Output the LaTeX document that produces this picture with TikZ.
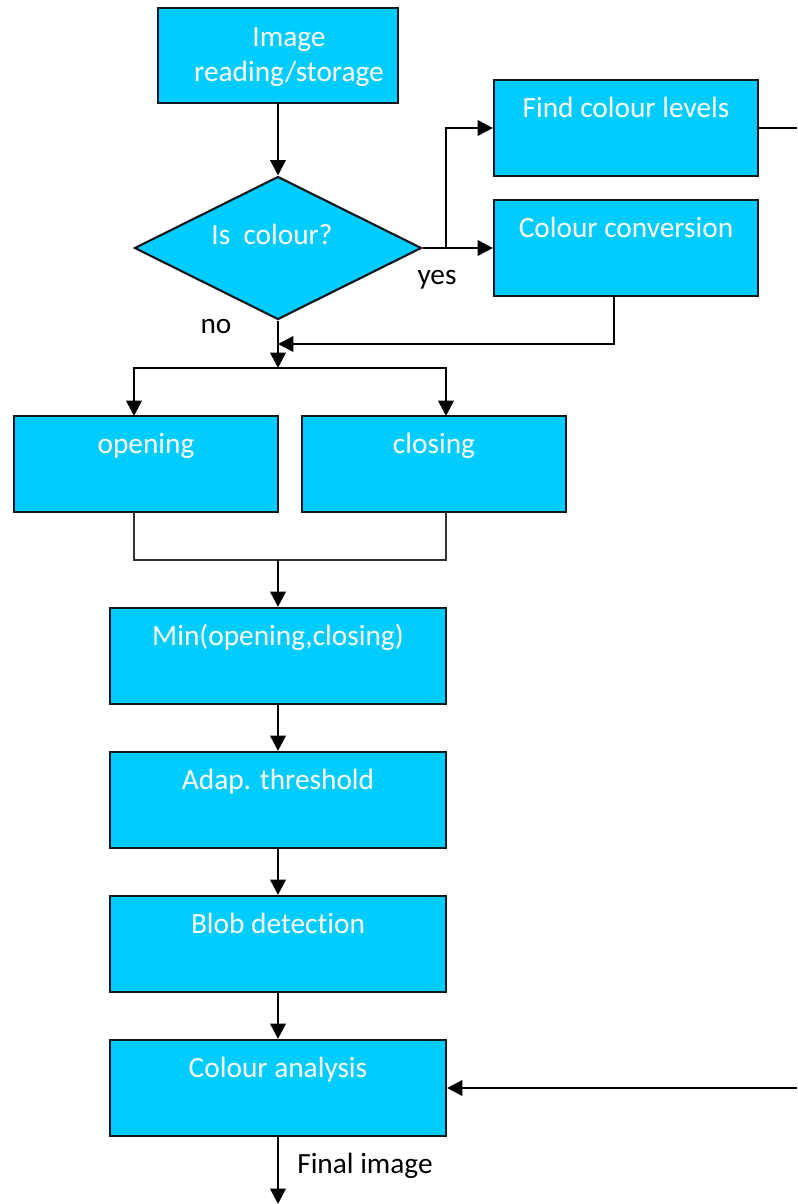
\documentclass[tikz,border=0pt]{standalone}
\usepackage{fontspec}
\setmainfont{Carlito}[Ligatures=NoCommon]
\usetikzlibrary{arrows.meta,shapes.geometric,fit}
\definecolor{boxcyan}{HTML}{00CCFF}
\definecolor{edge}{HTML}{101820}
\tikzset{
  box/.style={draw=edge,line width=1.6pt,fill=boxcyan,inner sep=0pt},
  btxt/.style={text=white,font=\fontsize{22}{26}\selectfont,inner sep=0pt,text height=0.7em,text depth=0.2em,align=center},
  lbl/.style={text=black,font=\fontsize{22}{26}\selectfont,inner sep=0pt,text height=0.7em,text depth=0.2em},
  arr/.style={draw=black,line width=2pt,-{Triangle[length=11.5pt,width=11.5pt]}},
  ln/.style={draw=black,line width=2pt},
  thinln/.style={draw=black!80,line width=1.3pt},
}
\begin{document}
\begin{tikzpicture}[x=0.75pt,y=-0.75pt]
\useasboundingbox (0,0) rectangle (797,1204);
\clip (0,0) rectangle (797,1204);
% boxes
\node[box,fit={(158,8)(398,103)}] (img) {};
\node[btxt] (imgt1) at (289,43) {Image};
\node[btxt] (imgt2) at (289,78) {reading/storage};
\node[box,fit={(494,80)(758,176)}] (fcl) {};
\node[btxt] (fclt) at (626,114) {Find colour levels};
\node[box,fit={(494,200)(758,296)}] (cc) {};
\node[btxt] (cct) at (626,234) {Colour conversion};
\node[diamond,box,minimum width=215.25pt,minimum height=107.25pt,aspect=2] (dec) at (278,248) {};
\node[btxt] (dect) at (272,241) {Is~ colour?};
\node[box,fit={(14,416)(278,512)}] (op) {};
\node[btxt] (opt) at (146,450) {opening};
\node[box,fit={(302,416)(566,512)}] (cl) {};
\node[btxt] (clt) at (434,450) {closing};
\node[box,fit={(110,608)(446,704)}] (mn) {};
\node[btxt] (mnt) at (278,642) {Min(opening,closing)};
\node[box,fit={(110,752)(446,848)}] (th) {};
\node[btxt] (tht) at (278,786) {Adap. threshold};
\node[box,fit={(110,896)(446,992)}] (bd) {};
\node[btxt] (bdt) at (278,930) {Blob detection};
\node[box,fit={(110,1040)(446,1136)}] (ca) {};
\node[btxt] (cat) at (278,1074) {Colour analysis};
% labels
\node[lbl] (yes) at (437,281) {yes};
\node[lbl] (no) at (216,330) {no};
\node[lbl] (fin) at (365,1170) {Final image};
% coordinates
\coordinate (imgb) at (278,103);
\coordinate (br) at (446,248);
\coordinate (ccb) at (614,296);
\coordinate (m1) at (278,344);
\coordinate (split) at (278,368);
\coordinate (opin) at (134,416);
\coordinate (clin) at (446,416);
\coordinate (opout) at (134,512);
\coordinate (clout) at (446,512);
\coordinate (join) at (278,560);
\coordinate (redge1) at (805,128);
\coordinate (redge2) at (805,1088);
\coordinate (out) at (278,1204);
% connectors
\draw[arr] (imgb) -- (dec.north);
\draw[arr] (dec.east) -- (cc.west);
\draw[arr] (br) |- (fcl.west);
\draw[ln] (fcl.east) -- (redge1) -- (redge2);
\draw[arr] (redge2) -- (ca.east);
\draw[arr] (ccb) |- (m1);
\draw[arr] (dec.south) -- (split);
\draw[arr] (split) -| (opin);
\draw[arr] (split) -| (clin);
\draw[thinln] (opout) |- (join) -| (clout);
\draw[arr] (join) -- (mn.north);
\draw[arr] (mn.south) -- (th.north);
\draw[arr] (th.south) -- (bd.north);
\draw[arr] (bd.south) -- (ca.north);
\draw[arr] (ca.south) -- (out);
\end{tikzpicture}
\end{document}
